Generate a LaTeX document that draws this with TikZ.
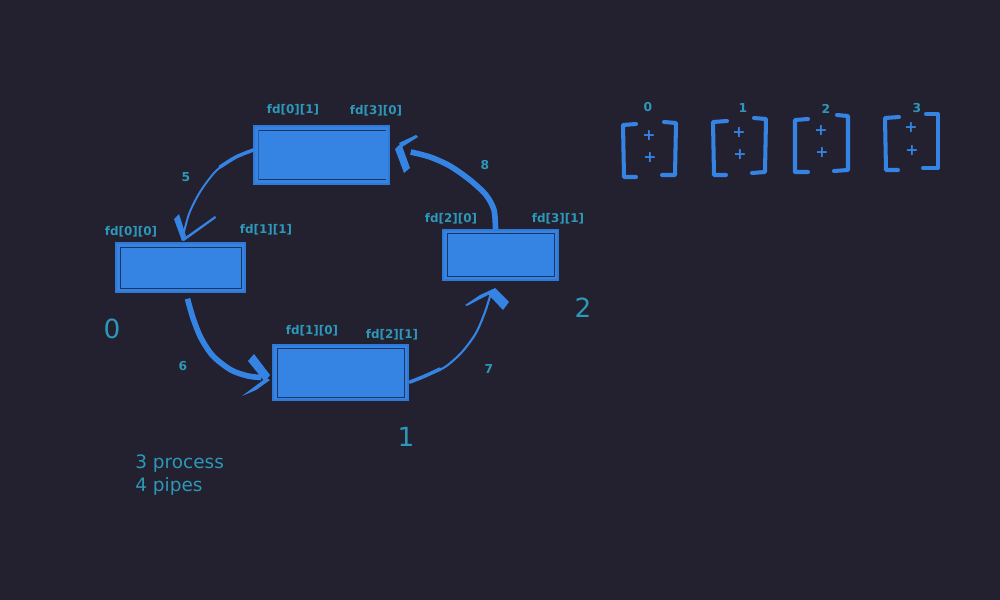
\documentclass[tikz,border=0pt]{standalone}
\usepackage{fontspec}
\setmainfont{DejaVu Sans}
\usetikzlibrary{calc}
\definecolor{bg}{HTML}{232030}
\definecolor{boxblue}{HTML}{3584E4}
\definecolor{boxedge}{HTML}{2F7AD6}
\definecolor{inner}{HTML}{1E3461}
\definecolor{txt}{HTML}{2D98B8}
\begin{document}
\begin{tikzpicture}[x=0.2mm,y=-0.2mm,
  box/.style={draw=boxedge,fill=boxblue,line width=0.8pt,inner sep=0pt},
  fdlab/.style={text=txt,font=\fontsize{6.8}{8}\selectfont\bfseries,inner sep=0pt},
  numlab/.style={text=txt,font=\fontsize{7}{8}\selectfont\bfseries,inner sep=0pt},
  biglab/.style={text=txt,font=\fontsize{15}{18}\selectfont,inner sep=0pt},
  notelab/.style={text=txt,font=\fontsize{10.5}{13.2}\selectfont,inner sep=0pt,align=left},
  arr/.style={draw=boxblue,line cap=round,line join=round},
  barb/.style={fill=boxblue},
  brk/.style={draw=boxblue,line width=2.3pt,line cap=round,line join=round},
  plus/.style={text=boxblue,font=\fontsize{9}{10}\selectfont\bfseries,inner sep=0pt}]
\fill[bg] (0,0) rectangle (1000,600);
\useasboundingbox (0,0) rectangle (1000,600);

% boxes
\node[box,minimum width=27mm,minimum height=11.6mm] (top) at (321.5,155) {};
\node[box,minimum width=25.8mm,minimum height=9.8mm] (p0) at (180.5,267.5) {};
\node[box,minimum width=27mm,minimum height=11mm] (p1) at (340.5,372.5) {};
\node[box,minimum width=23mm,minimum height=10mm] (p2) at (500.5,255) {};
\draw[inner,line width=0.5pt] ([shift={(5,5)}]top.north west) -- ([shift={(-4,5)}]top.north east);
\draw[inner,line width=0.5pt] ([shift={(5,-5)}]top.south west) -- ([shift={(-4,-5)}]top.south east);
\draw[inner!50!boxblue,line width=0.4pt] ([shift={(5,5)}]top.north west) -- ([shift={(5,-5)}]top.south west);
\draw[inner,line width=0.5pt] ([shift={(5,5)}]p0.north west) rectangle ([shift={(-4,-4)}]p0.south east);
\draw[inner,line width=0.5pt] ([shift={(5,4)}]p1.north west) rectangle ([shift={(-4,-3)}]p1.south east);
\draw[inner,line width=0.5pt] ([shift={(5,4)}]p2.north west) rectangle ([shift={(-4,-4)}]p2.south east);

% fd labels
\node[fdlab] (l01) at (293,110) {fd[0][1]};
\node[fdlab] (l30) at (376,111) {fd[3][0]};
\node[fdlab] (l00) at (131,232) {fd[0][0]};
\node[fdlab] (l11) at (266,230) {fd[1][1]};
\node[fdlab] (l10) at (312,331) {fd[1][0]};
\node[fdlab] (l21) at (392,335) {fd[2][1]};
\node[fdlab] (l20) at (451,219) {fd[2][0]};
\node[fdlab] (l31) at (558,219) {fd[3][1]};

% arrow numbers
\node[numlab] (n5) at (186,177) {5};
\node[numlab] (n6) at (183,366) {6};
\node[numlab] (n7) at (489,369) {7};
\node[numlab] (n8) at (485,165) {8};

% process numbers
\node[biglab] (b0) at (112,329) {0};
\node[biglab] (b1) at (406,437) {1};
\node[biglab] (b2) at (583,308) {2};

\node[notelab,anchor=north west] (note) at (135,454) {3 process\\4 pipes};

% arrow 5 : top -> p0
\coordinate (a5s) at ($(top.west)+(0,-5)$);
\coordinate (a5e) at ($(p0.north)+(2,-4)$);
\draw[arr,line width=1.1pt] plot[smooth] coordinates {(a5s) (236,157) (216,171) (200,192) (189,214) (a5e)};
\draw[arr,line width=2pt] plot[smooth] coordinates {(a5s) (236,157) (220,167)};
\fill[barb] (174,219) -- (179,214) -- (186,236) -- (182,241) -- cycle;
\fill[barb] (181,240) -- (215,216) -- (216,218) -- (184,241) -- cycle;

% arrow 6 : p0 -> p1
\coordinate (a6s) at ($(p0.south)+(7,6)$);
\coordinate (a6e) at ($(p1.west)+(-11,5)$);
\draw[arr,line width=3.2pt,line cap=butt] plot[smooth] coordinates {(a6s) (193,318) (201,338) (213,356) (231,370) (248,376) (a6e)};
\fill[barb] (248,361) -- (254,354) -- (270,375) -- (265,382) -- cycle;
\fill[barb] (266,378) -- (270,380) -- (256,390) -- (242,396) -- cycle;

% arrow 7 : p1 -> p2
\coordinate (a7s) at ($(p1.east)+(1,10)$);
\coordinate (a7e) at ($(p2.south)+(-10,14)$);
\draw[arr,line width=1.2pt] plot[smooth] coordinates {(a7s) (425,376) (445,367) (462,352) (476,333) (485,312) (a7e)};
\draw[arr,line width=2pt] plot[smooth] coordinates {(410,382) (425,376) (440,369)};
\fill[barb] (465,305) -- (480,295) -- (493,289) -- (492,293) -- (482,298) -- (467,306) -- cycle;
\fill[barb] (487,293) -- (495,288) -- (509,302) -- (503,310) -- cycle;

% arrow 8 : p2 -> top
\coordinate (a8s) at ($(p2.north)+(-5,0)$);
\coordinate (a8e) at ($(top.east)+(21,-3)$);
\draw[arr,line width=3.2pt,line cap=butt] plot[smooth] coordinates {(a8s) (494,210) (486,195) (470,180) (450,166) (430,157) (a8e)};
\fill[barb] (395,149) -- (401,143) -- (410,168) -- (404,173) -- cycle;
\fill[barb] (399,143) -- (416,135) -- (418,137) -- (402,147) -- cycle;

% arrays
\node[numlab] (i0) at (648,107) {0};
\node[numlab] (i1) at (743,108) {1};
\node[numlab] (i2) at (826,109) {2};
\node[numlab] (i3) at (917,108) {3};

\draw[brk] (636,124) -- (623,125) -- (624,177) -- (636,177);
\draw[brk] (664,122) -- (676,123) -- (675,175) -- (662,175);
\draw[brk] (727,121) -- (713,122) -- (714,175) -- (726,175);
\draw[brk] (754,118) -- (766,119) -- (765,172) -- (752,173);
\draw[brk] (808,119) -- (795,120) -- (795,172) -- (808,172);
\draw[brk] (837,115) -- (848,116) -- (848,170) -- (834,171);
\draw[brk] (899,117) -- (885,118) -- (886,170) -- (898,170);
\draw[brk] (926,114) -- (938,114) -- (938,168) -- (923,168);

\node[plus] (q0a) at (649,136) {+};
\node[plus] (q0b) at (650,158) {+};
\node[plus] (q1a) at (739,133) {+};
\node[plus] (q1b) at (740,155) {+};
\node[plus] (q2a) at (821,131) {+};
\node[plus] (q2b) at (822,153) {+};
\node[plus] (q3a) at (911,128) {+};
\node[plus] (q3b) at (912,151) {+};
\end{tikzpicture}
\end{document}
